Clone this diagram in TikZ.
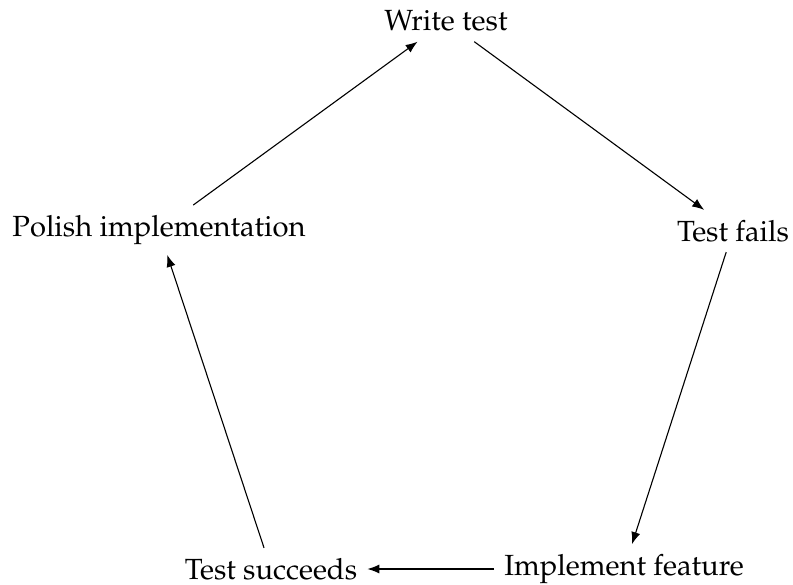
\documentclass[tikz,border=0pt]{standalone}
\usepackage[T1]{fontenc}
\usepackage{mathpazo}
\usetikzlibrary{arrows.meta}
\begin{document}
\begin{tikzpicture}[x=0.36pt,y=-0.36pt,
  stage/.style={inner sep=3.5pt,font=\fontsize{10.5}{12.6}\selectfont},
  flow/.style={-{Latex[length=4.3pt,width=3.3pt]},line width=0.4pt}]
\useasboundingbox (0,0) rectangle (793,585);
\node[stage] (w) at (446,21) {Write test};
\node[stage] (f) at (733,231) {Test fails};
\node[stage] (i) at (624,569) {Implement feature};
\node[stage] (s) at (271,569) {Test succeeds};
\node[stage] (p) at (159,230) {Polish implementation};
\draw[flow] (w) -- (f);
\draw[flow] (f) -- (i);
\draw[flow] (i) -- (s);
\draw[flow] (s) -- (p);
\draw[flow] (p) -- (w);
\end{tikzpicture}
\end{document}
